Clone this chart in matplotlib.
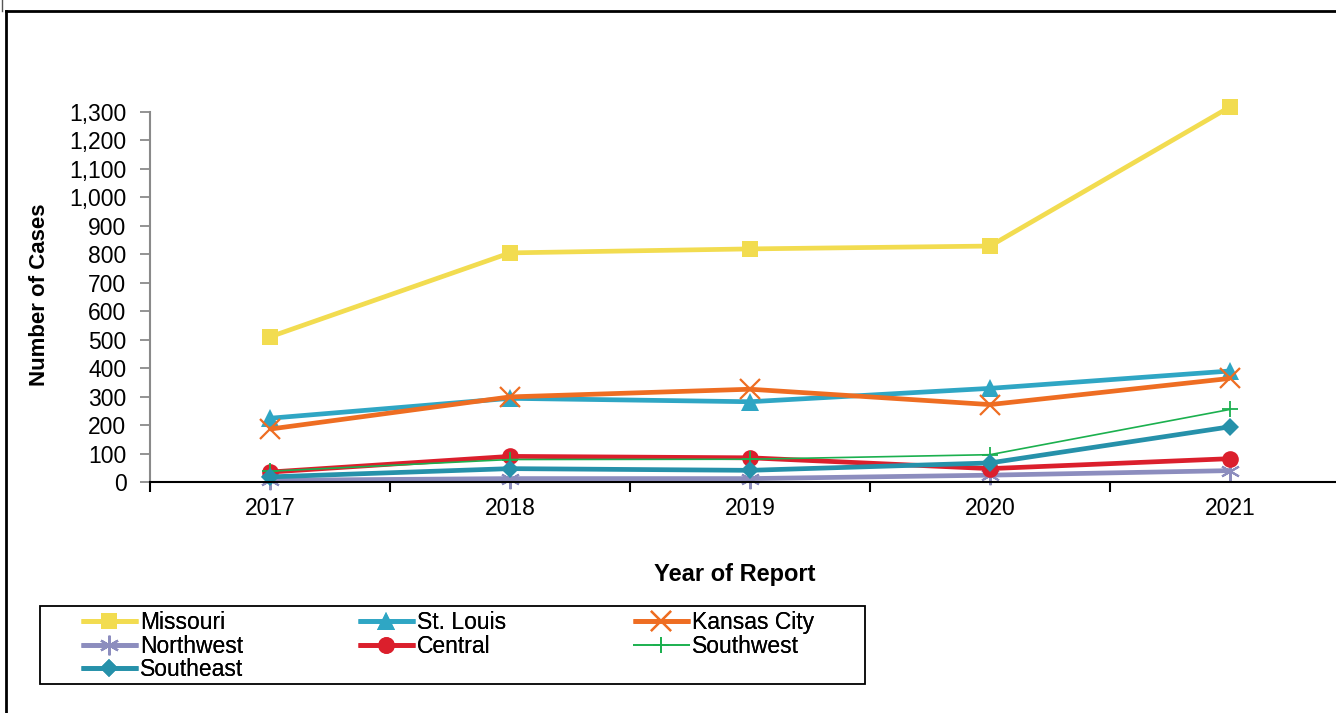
import matplotlib
matplotlib.use("Agg")
import matplotlib.pyplot as plt
from matplotlib.lines import Line2D

plt.rcParams['font.family'] = ['Liberation Sans', 'DejaVu Sans']

years = ["2017", "2018", "2019", "2020", "2021"]
missouri = [510, 805, 819, 829, 1318]
st_louis = [224, 294, 282, 329, 390]
kansas_city = [186, 299, 326, 272, 364]
northwest = [6, 12, 12, 24, 40]
central = [35, 90, 85, 47, 82]
southwest = [38, 79, 80, 96, 255]
southeast = [18, 47, 41, 67, 194]
y_ticks = list(range(0, 1301, 100))

W, H = 1336, 713
fig = plt.figure(figsize=(W / 100, H / 100), dpi=100)
ax = fig.add_axes([150 / W, 1 - 482 / H, 1200 / W, 370 / H])

x = list(range(len(years)))
series = [
    ("Missouri", missouri, dict(color="#F2DC50", lw=3.4, marker="s", ms=11, mew=0)),
    ("St. Louis", st_louis, dict(color="#2FA6C4", lw=3.4, marker="^", ms=13, mew=0)),
    ("Kansas City", kansas_city, dict(color="#EE6D22", lw=3.4, marker="x", ms=14, mew=1.6)),
    ("Northwest", northwest, dict(color="#8C8DBE", lw=3.4, marker=(6, 2, 0), ms=14, mew=1.5)),
    ("Central", central, dict(color="#DB1F2C", lw=3.4, marker="o", ms=12, mew=0)),
    ("Southwest", southwest, dict(color="#1BB04F", lw=1.2, marker="+", ms=11, mew=1.3)),
    ("Southeast", southeast, dict(color="#2691AA", lw=3.4, marker="D", ms=9, mew=0)),
]
lines = {}
for name, vals, st in series:
    ln, = ax.plot(x, vals, label=name, solid_capstyle="butt", clip_on=False, **st)
    lines[name] = ln

ax.set_xlim(-0.5, len(years) - 0.5)
ax.set_ylim(0, 1300)
ax.set_yticks(y_ticks)
ax.set_yticklabels([f"{v:,}" for v in y_ticks], fontsize=16.5)
ax.set_xticks([i - 0.5 for i in range(len(years) + 1)])
ax.set_xticklabels([])
ax.set_xticks(x, minor=True)
ax.set_xticklabels(years, minor=True, fontsize=16.5)
ax.tick_params(axis="x", which="major", direction="out", length=7, width=1.5, color="black")
ax.tick_params(axis="x", which="minor", length=0, pad=11)
ax.tick_params(axis="y", direction="out", length=7, width=1.3, color="#8a8a8a", pad=10)

for s in ["top", "right"]:
    ax.spines[s].set_visible(False)
ax.spines["left"].set_color("#8a8a8a")
ax.spines["left"].set_linewidth(1.5)
ax.spines["bottom"].set_color("black")
ax.spines["bottom"].set_linewidth(1.5)

fig.text(735 / W, 1 - 575 / H, "Year of Report", ha="center", va="center",
         fontsize=17, fontweight="bold")
fig.text(40 / W, 1 - 295 / H, "Number of Cases", ha="center", va="center",
         rotation=90, fontsize=16, fontweight="bold")

# legend box
fig.patches.append(plt.Rectangle((40 / W, 1 - 684 / H), 825 / W, 78 / H,
                                 transform=fig.transFigure, fill=False,
                                 edgecolor="black", lw=1.3))
cols = [["Missouri", "Northwest", "Southeast"], ["St. Louis", "Central"], ["Kansas City", "Southwest"]]
col_x = [75, 352, 627]
for cx, names in zip(col_x, cols):
    leg = fig.legend([lines[n] for n in names], names, loc="upper left",
                     bbox_to_anchor=(cx / W, 1 - 605 / H), frameon=False,
                     fontsize=16.5, handlelength=2.5, handletextpad=0.1,
                     labelspacing=0.035, borderpad=0.25, borderaxespad=0)
    fig.add_artist(leg)

# outer frame
fig.add_artist(Line2D([6 / W, 6 / W], [0, 1 - 11 / H], color="black", lw=2, transform=fig.transFigure))
fig.add_artist(Line2D([6 / W, 1], [1 - 11 / H, 1 - 11 / H], color="black", lw=2, transform=fig.transFigure))
fig.add_artist(Line2D([2 / W, 2 / W], [1 - 11 / H, 1], color="#555555", lw=1, transform=fig.transFigure))

fig.savefig("out.png", dpi=100)
